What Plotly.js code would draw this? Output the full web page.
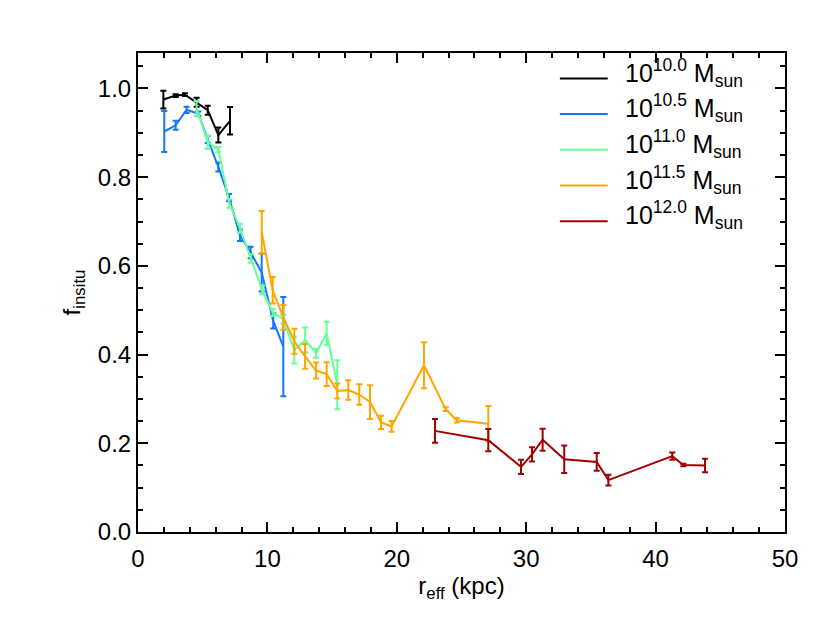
<!DOCTYPE html>
<html>
<head>
<meta charset="utf-8">
<script src="https://cdn.plot.ly/plotly-3.0.1.min.js"></script>
<style>
  html, body { margin: 0; padding: 0; background: white; }
  #chart { width: 826px; height: 621px; }
</style>
</head>
<body>
<div id="chart"></div>
<script>
// log10 stellar mass of each bin
var masses = ['10.0', '10.5', '11.0', '11.5', '12.0'];
var colors = ['#000000', '#1477ff', '#66ff99', '#ffa500', '#a00000'];

var r_100 = [1.96, 2.91, 3.63, 4.53, 5.39, 6.21, 7.11];
var f_100 = [0.975, 0.984, 0.986, 0.969, 0.951, 0.895, 0.927];
var e_100 = [0.02, 0.003, 0.003, 0.01, 0.01, 0.017, 0.031];

var r_105 = [2.03, 2.91, 3.76, 4.66, 5.39, 6.21, 7.03, 7.88, 8.71, 9.56, 10.45, 11.23];
var f_105 = [0.903, 0.917, 0.952, 0.943, 0.885, 0.823, 0.754, 0.669, 0.630, 0.585, 0.476, 0.418];
var e_105 = [0.046, 0.01, 0.007, 0.005, 0.008, 0.01, 0.008, 0.013, 0.013, 0.043, 0.017, 0.112];

var r_110 = [4.53, 5.39, 6.21, 7.06, 7.88, 8.73, 9.6, 10.41, 11.23, 12.08, 12.91, 13.76, 14.58, 15.4];
var f_110 = [0.955, 0.879, 0.862, 0.741, 0.685, 0.617, 0.546, 0.495, 0.48, 0.41, 0.433, 0.403, 0.448, 0.332];
var e_110 = [0.017, 0.015, 0.006, 0.01, 0.01, 0.01, 0.01, 0.008, 0.01, 0.03, 0.028, 0.01, 0.026, 0.055];

var r_115 = [9.56, 10.41, 11.23, 12.08, 12.91, 13.76, 14.58, 15.4, 16.25, 17.1, 17.93, 18.78, 19.6, 22.1, 23.78, 24.63, 27.07];
var f_115 = [0.676, 0.545, 0.484, 0.43, 0.396, 0.364, 0.356, 0.318, 0.32, 0.31, 0.293, 0.247, 0.238, 0.376, 0.277, 0.252, 0.244];
var e_115 = [0.048, 0.03, 0.028, 0.028, 0.028, 0.018, 0.027, 0.017, 0.022, 0.023, 0.038, 0.015, 0.012, 0.052, 0.004, 0.005, 0.04];

var r_120 = [22.95, 27.07, 29.6, 30.45, 31.27, 32.94, 35.45, 36.35, 41.29, 42.14, 43.82];
var f_120 = [0.228, 0.207, 0.147, 0.175, 0.208, 0.164, 0.158, 0.117, 0.171, 0.151, 0.150];
var e_120 = [0.027, 0.025, 0.016, 0.016, 0.025, 0.031, 0.02, 0.012, 0.008, 0.003, 0.015];

var rs = [r_100, r_105, r_110, r_115, r_120];
var fs = [f_100, f_105, f_110, f_115, f_120];
var es = [e_100, e_105, e_110, e_115, e_120];

var data = [];
var shapes = [];
var annotations = [];
for (var i = 0; i < masses.length; i++) {
  var label = '10<sup>' + masses[i] + '</sup> M<sub>sun</sub>';
  data.push({
    x: rs[i],
    y: fs[i],
    name: label,
    type: 'scatter',
    mode: 'lines',
    showlegend: false,
    line: {color: colors[i], width: 2},
    error_y: {type: 'data', array: es[i], visible: true, color: colors[i], thickness: 2, width: 3}
  });
  // hand-made legend, idl style (long line sample, big text)
  var ly = 0.947 - i * 0.0745;
  shapes.push({
    type: 'line', xref: 'paper', yref: 'paper',
    x0: 0.652, x1: 0.726, y0: ly, y1: ly,
    line: {color: colors[i], width: 2}
  });
  annotations.push({
    xref: 'paper', yref: 'paper', x: 0.75, y: ly + 0.012,
    xanchor: 'left', yanchor: 'middle', showarrow: false,
    text: label, font: {size: 25, color: 'black'}
  });
}

var layout = {
  width: 826,
  height: 621,
  font: {family: 'Liberation Sans, Arial, sans-serif', color: 'black', size: 24},
  paper_bgcolor: 'white',
  plot_bgcolor: 'white',
  margin: {l: 138, r: 41, t: 53, b: 89},
  showlegend: false,
  shapes: shapes,
  annotations: annotations,
  xaxis: {
    range: [0, 50],
    tickmode: 'linear', tick0: 0, dtick: 10,
    showline: true, linecolor: 'black', linewidth: 2, mirror: 'allticks',
    ticks: 'inside', ticklen: 10, tickwidth: 2, tickcolor: 'black',
    showgrid: false, zeroline: false,
    tickfont: {size: 24, color: 'black'},
    ticklabelstandoff: 4,
    minor: {dtick: 2, ticks: 'inside', ticklen: 5, tickwidth: 2, tickcolor: 'black', showgrid: false},
    title: {text: 'r<sub>eff</sub> (kpc)', font: {size: 24}, standoff: 6}
  },
  yaxis: {
    range: [0, 1.08],
    tickmode: 'linear', tick0: 0, dtick: 0.2,
    tickformat: '.1f',
    showline: true, linecolor: 'black', linewidth: 2, mirror: 'allticks',
    ticks: 'inside', ticklen: 10, tickwidth: 2, tickcolor: 'black',
    showgrid: false, zeroline: false,
    tickfont: {size: 24, color: 'black'},
    minor: {dtick: 0.05, ticks: 'inside', ticklen: 5, tickwidth: 2, tickcolor: 'black', showgrid: false},
    title: {text: 'f<sub>insitu</sub>', font: {size: 24}, standoff: 10}
  }
};

Plotly.newPlot('chart', data, layout, {displayModeBar: false});
</script>
</body>
</html>
